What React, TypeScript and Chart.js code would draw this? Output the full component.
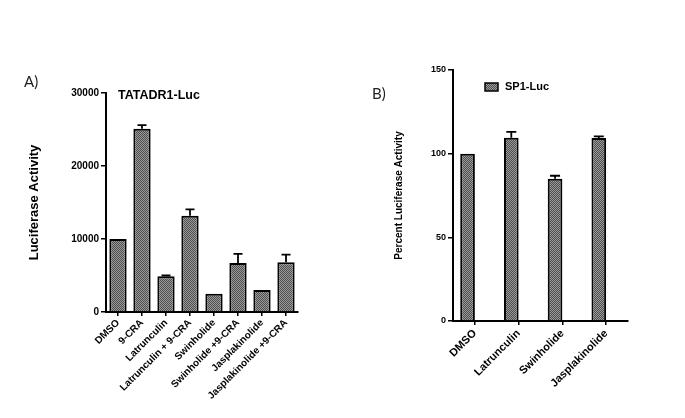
import React, { useEffect, useRef } from 'react';
import { Chart, registerables } from 'chart.js';
Chart.register(...registerables);

// ---------- Data: panel A ----------
const categoriesA = [
  'DMSO',
  '9-CRA',
  'Latrunculin',
  'Latrunculin + 9-CRA',
  'Swinholide',
  'Swinholide +9-CRA',
  'Jasplakinolide',
  'Jasplakinolide +9-CRA',
];
const valuesA = [10000, 25100, 4900, 13200, 2500, 6700, 3000, 6800];
const errorsA = [0, 500, 100, 850, 0, 1250, 0, 1050];
const yTicksA = [0, 10000, 20000, 30000];
const titleA = 'TATADR1-Luc';
const yTitleA = 'Luciferase Activity';

// ---------- Data: panel B ----------
const categoriesB = ['DMSO', 'Latrunculin', 'Swinholide', 'Jasplakinolide'];
const valuesB = [100, 109.5, 85, 109.3];
const errorsB = [0, 3.5, 1.8, 1];
const yTicksB = [0, 50, 100, 150];
const legendB = 'SP1-Luc';
const yTitleB = 'Percent Luciferase Activity';

const FONT = '"Liberation Sans", Arial, sans-serif';

function makePattern(ctx: CanvasRenderingContext2D) {
  const c = document.createElement('canvas');
  c.width = 2;
  c.height = 2;
  const p = c.getContext('2d')!;
  p.fillStyle = '#9a9a9a';
  p.fillRect(0, 0, 2, 2);
  p.fillStyle = '#4e4e4e';
  p.fillRect(0, 0, 1, 1);
  p.fillRect(1, 1, 1, 1);
  return ctx.createPattern(c, 'repeat') as CanvasPattern;
}

const errorBarPlugin = {
  id: 'errorBars',
  afterDatasetsDraw(chart: any) {
    const ctx = chart.ctx;
    const yScale = chart.scales.y;
    chart.data.datasets.forEach((ds: any, di: number) => {
      if (!ds.errors) return;
      const meta = chart.getDatasetMeta(di);
      meta.data.forEach((el: any, i: number) => {
        const v = ds.data[i];
        const e = ds.errors[i];
        if (v == null || !e) return;
        const yTop = yScale.getPixelForValue(v + e);
        const capW = ds.capWidth || 8;
        ctx.save();
        ctx.strokeStyle = '#000';
        ctx.lineWidth = 1.8;
        ctx.beginPath();
        ctx.moveTo(el.x, el.y);
        ctx.lineTo(el.x, yTop);
        ctx.moveTo(el.x - capW / 2, yTop);
        ctx.lineTo(el.x + capW / 2, yTop);
        ctx.stroke();
        ctx.restore();
      });
    });
  },
};

const annotPlugin = {
  id: 'annot',
  afterDraw(chart: any, _args: any, opts: any) {
    const ctx = chart.ctx;
    const area = chart.chartArea;
    ctx.save();
    ctx.fillStyle = '#000';
    ctx.textBaseline = 'middle';
    ctx.textAlign = 'left';
    if (opts.kind === 'title') {
      ctx.font = `bold 12.5px ${FONT}`;
      ctx.fillText(opts.text, area.left + 12, area.top + 3);
    } else if (opts.kind === 'legend') {
      const bx = area.left + 32;
      const by = area.top + 13;
      ctx.fillStyle = chart.data.datasets[0].backgroundColor;
      ctx.fillRect(bx, by, 13, 8);
      ctx.strokeStyle = '#000';
      ctx.lineWidth = 1.5;
      ctx.strokeRect(bx, by, 13, 8);
      ctx.fillStyle = '#000';
      ctx.font = `bold 11px ${FONT}`;
      ctx.fillText(opts.text, bx + 20, by + 4);
    }
    ctx.restore();
  },
};

function axisStyle(tickLen: number) {
  return {
    grid: {
      display: true,
      drawOnChartArea: false,
      drawTicks: true,
      tickLength: tickLen,
      color: '#000',
      lineWidth: 1.5,
      offset: false,
    },
    border: { display: true, color: '#000', width: 2 },
  };
}

const plainNumber = (v: any) => String(v);

function PanelA() {
  const ref = useRef<HTMLCanvasElement>(null);
  useEffect(() => {
    const ctx = ref.current!.getContext('2d')!;
    const pattern = makePattern(ctx);
    const chart = new Chart(ctx, {
      type: 'bar',
      data: {
        labels: categoriesA,
        datasets: [
          {
            data: valuesA,
            errors: errorsA,
            capWidth: 9,
            backgroundColor: pattern,
            borderColor: '#000',
            borderWidth: 2,
            barPercentage: 0.72,
            categoryPercentage: 1,
          } as any,
        ],
      },
      options: {
        animation: false,
        responsive: false,
        layout: { padding: { left: 0, top: 93, right: 47, bottom: 0 } },
        plugins: {
          legend: { display: false },
          tooltip: { enabled: false },
          annot: { kind: 'title', text: titleA },
        } as any,
        scales: {
          x: {
            ...axisStyle(4),
            ticks: {
              minRotation: 45,
              maxRotation: 45,
              autoSkip: false,
              padding: 1,
              color: '#000',
              font: { family: FONT, weight: 'bold', size: 10 },
            },
            afterFit: (s: any) => {
              s.height = 106;
            },
          },
          y: {
            ...axisStyle(5),
            min: 0,
            max: 30000,
            afterBuildTicks: (s: any) => {
              s.ticks = yTicksA.map((v) => ({ value: v }));
            },
            ticks: {
              padding: 2,
              color: '#000',
              font: { family: FONT, weight: 'bold', size: 10 },
              callback: plainNumber,
            },
            title: {
              display: true,
              text: yTitleA,
              color: '#000',
              font: { family: FONT, weight: 'bold', size: 13 },
              padding: { top: 27, bottom: 0 },
            },
            afterFit: (s: any) => {
              s.width = 106;
            },
          },
        } as any,
      },
      plugins: [errorBarPlugin, annotPlugin],
    });
    return () => chart.destroy();
  }, []);
  return (
    <canvas
      ref={ref}
      width={345}
      height={418}
      style={{ position: 'absolute', left: 0, top: 0, width: 345, height: 418 }}
    />
  );
}

function PanelB() {
  const ref = useRef<HTMLCanvasElement>(null);
  useEffect(() => {
    const ctx = ref.current!.getContext('2d')!;
    const pattern = makePattern(ctx);
    const chart = new Chart(ctx, {
      type: 'bar',
      data: {
        labels: categoriesB,
        datasets: [
          {
            label: legendB,
            data: valuesB,
            errors: errorsB,
            capWidth: 10,
            backgroundColor: pattern,
            borderColor: '#000',
            borderWidth: 2,
            barPercentage: 1,
            categoryPercentage: 0.67,
          } as any,
          {
            label: '',
            data: categoriesB.map(() => null),
            barPercentage: 1,
            categoryPercentage: 0.67,
          } as any,
        ],
      },
      options: {
        animation: false,
        responsive: false,
        layout: { padding: { left: 0, top: 70, right: 57, bottom: 0 } },
        plugins: {
          legend: { display: false },
          tooltip: { enabled: false },
          annot: { kind: 'legend', text: legendB },
        } as any,
        scales: {
          x: {
            ...axisStyle(4),
            ticks: {
              minRotation: 45,
              maxRotation: 45,
              autoSkip: false,
              padding: 2,
              color: '#000',
              font: { family: FONT, weight: 'bold', size: 11 },
            },
            afterFit: (s: any) => {
              s.height = 97;
            },
          },
          y: {
            ...axisStyle(5),
            min: 0,
            max: 150,
            afterBuildTicks: (s: any) => {
              s.ticks = yTicksB.map((v) => ({ value: v }));
            },
            ticks: {
              padding: 2,
              color: '#000',
              font: { family: FONT, weight: 'bold', size: 9 },
              callback: plainNumber,
            },
            title: {
              display: true,
              text: yTitleB,
              color: '#000',
              font: { family: FONT, weight: 'bold', size: 10 },
              padding: { top: 48, bottom: 0 },
            },
            afterFit: (s: any) => {
              s.width = 108;
            },
          },
        } as any,
      },
      plugins: [errorBarPlugin, annotPlugin],
    });
    return () => chart.destroy();
  }, []);
  return (
    <canvas
      ref={ref}
      width={340}
      height={418}
      style={{ position: 'absolute', left: 345, top: 0, width: 340, height: 418 }}
    />
  );
}

export default function App() {
  const labelStyle: React.CSSProperties = {
    position: 'absolute',
    fontFamily: 'Lato, "Open Sans", sans-serif',
    fontSize: 15,
    color: '#222',
    lineHeight: '15px',
  };
  return (
    <div
      style={{
        position: 'absolute',
        left: 0,
        top: 0,
        width: 685,
        height: 418,
        background: '#fff',
        overflow: 'hidden',
      }}
    >
      <PanelA />
      <PanelB />
      <div style={{ ...labelStyle, left: 24, top: 74 }}>A)</div>
      <div style={{ ...labelStyle, left: 372, top: 86 }}>B)</div>
    </div>
  );
}
